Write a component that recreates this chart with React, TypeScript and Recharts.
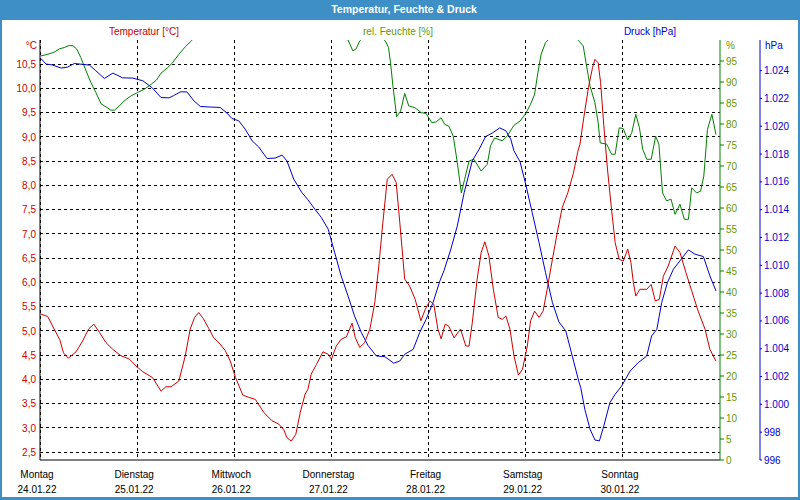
import React from 'react';
import { LineChart, Line, XAxis, YAxis, CartesianGrid } from 'recharts';

const dayNames = ['Montag', 'Dienstag', 'Mittwoch', 'Donnerstag', 'Freitag', 'Samstag', 'Sonntag'];
const dayDates = ['24.01.22', '25.01.22', '26.01.22', '27.01.22', '28.01.22', '29.01.22', '30.01.22'];
const dayHours = [0, 24, 48, 72, 96, 120, 144];
const tempTicks = [2.5, 3, 3.5, 4, 4.5, 5, 5.5, 6, 6.5, 7, 7.5, 8, 8.5, 9, 9.5, 10, 10.5];
const humTicks = [0, 5, 10, 15, 20, 25, 30, 35, 40, 45, 50, 55, 60, 65, 70, 75, 80, 85, 90, 95];
const presTicks = [996, 998, 1000, 1002, 1004, 1006, 1008, 1010, 1012, 1014, 1016, 1018, 1020, 1022, 1024];

// [hour since Monday 00:00, value]
const temperature: [number, number][] = [
  [0.2, 5.35], [1.9, 5.3], [3.5, 5.04], [4.9, 4.82], [5.8, 4.55], [7.0, 4.44], [8.9, 4.57], [10.5, 4.79],
  [12.0, 5.04], [13.3, 5.14], [14.7, 4.97], [16.3, 4.76], [18.0, 4.62], [20.0, 4.49], [22.1, 4.42], [23.7, 4.28],
  [25.4, 4.16], [27.8, 4.04], [29.9, 3.76], [31.1, 3.85], [32.4, 3.85], [34.3, 3.97], [35.9, 4.49], [37.1, 5.04],
  [38.2, 5.28], [39.2, 5.38], [40.4, 5.25], [41.7, 5.05], [42.9, 4.86], [44.5, 4.73], [45.8, 4.59], [47.0, 4.38],
  [48.3, 4.04], [50.1, 3.68], [51.6, 3.63], [53.2, 3.59], [55.3, 3.32], [57.3, 3.15], [59.0, 3.08], [60.2, 2.97],
  [61.0, 2.8], [62.1, 2.73], [63.2, 2.87], [64.3, 3.32], [65.5, 3.7], [66.2, 3.8], [67.0, 4.11], [68.3, 4.31],
  [69.9, 4.57], [71.2, 4.52], [72.0, 4.42], [73.2, 4.69], [74.4, 4.83], [75.7, 4.88], [77.1, 5.16], [77.9, 4.86],
  [79.0, 4.66], [80.2, 4.76], [81.5, 5.04], [82.7, 5.58], [83.7, 6.34], [84.7, 7.23], [85.8, 8.13], [87.0, 8.23],
  [88.0, 8.06], [88.9, 7.23], [90.1, 6.07], [91.3, 5.93], [92.7, 5.65], [94.1, 5.21], [95.2, 5.45], [96.3, 5.62],
  [97.3, 5.55], [98.3, 5.04], [99.1, 4.84], [100.1, 5.14], [101.0, 5.1], [102.3, 4.86], [103.9, 5.04], [105.2, 4.69],
  [106.0, 4.69], [106.8, 5.17], [108.0, 6.07], [109.0, 6.62], [109.9, 6.84], [110.9, 6.55], [112.0, 5.86], [113.2, 5.28],
  [114.2, 5.24], [115.1, 5.31], [116.1, 5.04], [117.1, 4.49], [118.2, 4.09], [119.2, 4.21], [120.4, 4.69], [121.2, 5.21],
  [122.2, 5.41], [123.3, 5.28], [124.3, 5.41], [125.3, 5.86], [126.6, 6.48], [127.8, 7.03], [129.0, 7.54], [130.4, 7.85],
  [131.8, 8.26], [132.9, 8.71], [133.4, 8.85], [134.4, 9.43], [135.5, 10.02], [136.5, 10.43], [137.1, 10.6], [137.9, 10.53],
  [138.5, 10.12], [139.3, 9.23], [140.2, 8.34], [141.2, 7.51], [142.1, 6.82], [143.1, 6.48], [144.1, 6.44], [145.2, 6.69],
  [146.0, 6.41], [146.6, 6.0], [147.2, 5.72], [148.2, 5.86], [149.9, 5.86], [151.0, 5.96], [152.0, 5.62], [153.0, 5.65],
  [154.0, 6.13], [155.2, 6.34], [156.9, 6.75], [158.1, 6.62], [159.6, 6.2], [161.0, 5.83], [162.6, 5.41], [164.3, 5.04],
  [165.5, 4.62], [167.0, 4.38],
];

const humidity: [number, number][] = [
  [0.2, 96.2], [1.9, 96.6], [3.5, 97.1], [4.8, 97.9], [6.0, 98.2], [7.2, 98.7], [8.2, 98.6], [9.1, 97.8],
  [10.1, 95.8], [11.4, 92.6], [12.6, 89.8], [13.8, 87.5], [15.1, 84.8], [16.3, 84.1], [17.5, 83.3], [18.4, 83.3],
  [19.6, 84.3], [20.8, 85.5], [22.5, 86.7], [24.1, 87.5], [25.8, 88.3], [27.4, 89.4], [28.8, 90.5], [29.9, 92.1],
  [31.5, 93.4], [32.6, 94.4], [34.3, 96.6], [35.9, 98.4], [37.4, 99.8], [39.0, 101.5], [45.0, 103], [55.0, 104],
  [65.0, 103.5], [72.0, 102], [76.1, 100], [77.3, 97.4], [78.1, 97.9], [79.0, 99.8], [81.0, 101.5], [83.0, 101.5],
  [85.3, 99.8], [86.1, 98.2], [86.6, 94.6], [87.2, 89.0], [87.8, 84.3], [88.1, 81.7], [89.1, 83.1], [90.1, 87.3],
  [91.1, 84.3], [92.6, 83.9], [94.2, 82.7], [95.4, 82.5], [96.8, 80.3], [97.9, 80.5], [99.1, 81.5], [100.0, 79.9],
  [101.0, 79.5], [102.1, 77.1], [103.1, 70.8], [104.1, 63.6], [104.9, 66.8], [106.0, 71.2], [107.2, 71.6], [109.0, 68.8],
  [110.5, 70.4], [111.3, 74.8], [112.3, 76.7], [114.2, 76.0], [115.4, 77.1], [117.1, 79.7], [118.6, 80.7], [120.0, 82.5],
  [121.2, 84.7], [122.2, 87.1], [123.0, 92.2], [123.8, 96.6], [124.9, 99.4], [125.5, 100], [128.0, 102], [131.0, 102.5],
  [133.3, 99.6], [134.2, 98.6], [134.9, 94.6], [135.9, 89.0], [137.1, 85.1], [137.9, 80.3], [138.4, 75.5], [140.0, 75.2],
  [141.2, 72.8], [142.1, 72.8], [143.1, 79.1], [144.1, 78.9], [145.2, 76.2], [146.2, 77.9], [147.2, 82.3], [148.1, 79.1],
  [148.9, 74.0], [149.9, 71.6], [151.0, 71.6], [152.1, 77.1], [152.9, 75.2], [153.8, 63.6], [154.8, 61.7], [155.9, 62.1],
  [156.9, 58.5], [158.1, 60.9], [159.2, 57.3], [160.2, 57.3], [161.0, 64.8], [162.2, 63.6], [163.2, 64.0], [164.0, 67.6],
  [164.9, 78.7], [166.0, 82.3], [167.0, 77.5],
];

const pressure: [number, number][] = [
  [0.2, 1024.87], [1.5, 1024.47], [3.1, 1024.4], [5.2, 1024.18], [6.8, 1024.25], [8.5, 1024.51], [10.1, 1024.46], [12.2, 1024.4],
  [13.8, 1023.99], [15.9, 1023.43], [18.0, 1023.82], [20.4, 1023.48], [22.9, 1023.46], [25.4, 1023.27], [27.8, 1022.74], [29.9, 1022.06],
  [31.9, 1022.04], [33.0, 1022.2], [34.7, 1022.47], [36.3, 1022.47], [38.0, 1021.83], [39.6, 1021.42], [42.1, 1021.38], [44.5, 1021.35],
  [46.2, 1020.94], [47.4, 1020.56], [49.1, 1020.39], [50.7, 1019.79], [52.4, 1018.95], [54.0, 1018.52], [56.1, 1017.68], [58.1, 1017.71],
  [59.8, 1017.92], [61.0, 1017.51], [62.7, 1016.19], [64.7, 1015.23], [66.2, 1014.71], [67.9, 1014.04], [69.5, 1013.44], [71.2, 1012.6],
  [72.8, 1010.92], [74.4, 1009.24], [76.1, 1007.8], [77.7, 1006.36], [79.4, 1005.16], [81.0, 1004.25], [83.1, 1003.48], [85.2, 1003.43],
  [87.4, 1002.96], [88.9, 1003.12], [90.1, 1003.6], [92.2, 1003.96], [93.8, 1005.16], [95.4, 1006.12], [97.1, 1007.32], [98.8, 1008.88],
  [99.8, 1009.6], [101.5, 1011.16], [103.1, 1012.83], [104.8, 1015.23], [106.8, 1017.51], [108.5, 1018.35], [110.1, 1019.26], [111.7, 1019.5],
  [113.6, 1019.88], [115.1, 1019.67], [116.3, 1019.07], [117.1, 1018.23], [118.6, 1017.44], [120.0, 1015.83], [121.6, 1013.79], [123.3, 1011.63],
  [124.9, 1009.47], [126.6, 1007.32], [128.2, 1005.93], [129.9, 1005.28], [131.5, 1003.48], [133.2, 1001.56], [133.6, 1001.2], [134.6, 999.65],
  [135.9, 998.21], [137.1, 997.44], [138.2, 997.37], [139.3, 998.45], [140.8, 1000.12], [142.1, 1000.73], [143.7, 1001.32], [145.8, 1002.4],
  [147.8, 1003.0], [149.9, 1003.48], [151.1, 1004.92], [152.4, 1005.4], [153.6, 1007.32], [155.0, 1008.75], [156.5, 1009.72], [158.1, 1010.32],
  [160.2, 1011.11], [161.8, 1010.8], [163.9, 1010.63], [165.5, 1009.24], [167.0, 1008.16],
];

const toRows = (pairs: [number, number][]) => pairs.map(([t, v]) => ({ t, v }));
const tempRows = toRows(temperature);
const humRows = toRows(humidity);
const presRows = toRows(pressure);

const FONT = "'Liberation Sans', Arial, sans-serif";
const TEMP_COLOR = '#cc0000';
const HUM_LINE = '#008000';
const HUM_TEXT = '#669900';
const PRES_COLOR = '#0000cc';
const FRAME = '#3d8fc5';

const fmtTemp = (v: number) => v.toFixed(1).replace('.', ',');
const fmtPres = (v: number) => (v >= 1000 ? '1.' + String(Math.round(v - 1000)).padStart(3, '0') : String(v));

const DayTick = (props: any) => {
  const { x, y, payload } = props;
  const i = dayHours.indexOf(payload.value);
  if (i < 0) return null;
  return (
    <g>
      <text x={x - 3} y={y + 17.5} textAnchor="middle" fontSize={10} fontFamily={FONT} fill="#000">
        {dayNames[i]}
      </text>
      <text x={x - 3} y={y + 32.5} textAnchor="middle" fontSize={10} fontFamily={FONT} fill="#000">
        {dayDates[i]}
      </text>
    </g>
  );
};

export default function App() {
  return (
    <div style={{ position: 'absolute', left: 0, top: 0, width: 800, height: 500, background: '#fff', overflow: 'hidden' }}>
      <div style={{ position: 'absolute', left: 0, top: 0 }}>
        <LineChart width={800} height={500} margin={{ top: 40, right: 0, bottom: 0, left: 0 }}>
          <CartesianGrid
            yAxisId="temp"
            stroke="#000"
            strokeDasharray="3 3"
            horizontalValues={tempTicks}
            verticalValues={dayHours}
            shapeRendering="crispEdges"
          />
          <XAxis
            dataKey="t"
            type="number"
            domain={[0, 168]}
            ticks={dayHours}
            interval={0}
            allowDataOverflow
            height={40}
            tickLine={false}
            tickSize={0}
            tickMargin={0}
            axisLine={{ stroke: '#000' }}
            tick={<DayTick />}
          />
          <XAxis
            xAxisId="top"
            orientation="top"
            type="number"
            domain={[0, 168]}
            height={0}
            tick={false}
            tickLine={false}
            axisLine={{ stroke: '#000' }}
          />
          <YAxis
            yAxisId="temp"
            orientation="left"
            type="number"
            width={40}
            domain={[2.34, 11.0]}
            ticks={tempTicks}
            interval={0}
            allowDataOverflow
            tickLine={false}
            tickSize={2}
            tickMargin={2}
            tickFormatter={fmtTemp}
            axisLine={{ stroke: '#000' }}
            tick={{ fill: TEMP_COLOR, fontSize: 10, fontFamily: FONT }}
          />
          <YAxis
            yAxisId="hum"
            orientation="right"
            type="number"
            width={40}
            domain={[0, 100]}
            ticks={humTicks}
            interval={0}
            allowDataOverflow
            tickSize={4}
            tickMargin={2}
            tickLine={{ stroke: HUM_LINE }}
            axisLine={{ stroke: HUM_LINE }}
            tick={{ fill: HUM_TEXT, fontSize: 10, fontFamily: FONT, textAnchor: 'start' }}
          />
          <YAxis
            yAxisId="pres"
            orientation="right"
            type="number"
            width={40}
            domain={[996, 1026.2]}
            ticks={presTicks}
            interval={0}
            allowDataOverflow
            tickSize={2}
            tickMargin={2}
            tickFormatter={fmtPres}
            tickLine={{ stroke: PRES_COLOR }}
            axisLine={{ stroke: PRES_COLOR }}
            tick={{ fill: PRES_COLOR, fontSize: 10, fontFamily: FONT, textAnchor: 'start' }}
          />
          <Line data={humRows} dataKey="v" yAxisId="hum" type="linear" stroke={HUM_LINE} strokeWidth={1} dot={false} activeDot={false} isAnimationActive={false} />
          <Line data={presRows} dataKey="v" yAxisId="pres" type="linear" stroke={PRES_COLOR} strokeWidth={1} dot={false} activeDot={false} isAnimationActive={false} />
          <Line data={tempRows} dataKey="v" yAxisId="temp" type="linear" stroke={TEMP_COLOR} strokeWidth={1} dot={false} activeDot={false} isAnimationActive={false} />
        </LineChart>
      </div>
      <svg width={800} height={500} style={{ position: 'absolute', left: 0, top: 0, pointerEvents: 'none' }}>
        <rect x={0} y={0} width={800} height={20} fill={FRAME} />
        <rect x={0} y={20} width={2} height={480} fill={FRAME} />
        <rect x={798} y={20} width={2} height={480} fill={FRAME} />
        <rect x={0} y={497} width={800} height={3} fill={FRAME} />
        <text x={404} y={13} textAnchor="middle" fontSize={10.5} fontWeight="bold" fontFamily={FONT} fill="#fff">
          Temperatur, Feuchte &amp; Druck
        </text>
        <text x={144} y={34.5} textAnchor="middle" fontSize={10} fontFamily={FONT} fill={TEMP_COLOR}>
          Temperatur [°C]
        </text>
        <text x={398} y={34.5} textAnchor="middle" fontSize={10} fontFamily={FONT} fill={HUM_TEXT}>
          rel. Feuchte [%]
        </text>
        <text x={650} y={34.5} textAnchor="middle" fontSize={10} fontFamily={FONT} fill={PRES_COLOR}>
          Druck [hPa]
        </text>
        <text x={37} y={48.5} textAnchor="end" fontSize={10} fontFamily={FONT} fill={TEMP_COLOR}>
          °C
        </text>
        <text x={726} y={48.5} textAnchor="start" fontSize={10} fontFamily={FONT} fill={HUM_TEXT}>
          %
        </text>
        <text x={765} y={48.5} textAnchor="start" fontSize={10} fontFamily={FONT} fill={PRES_COLOR}>
          hPa
        </text>
      </svg>
    </div>
  );
}
